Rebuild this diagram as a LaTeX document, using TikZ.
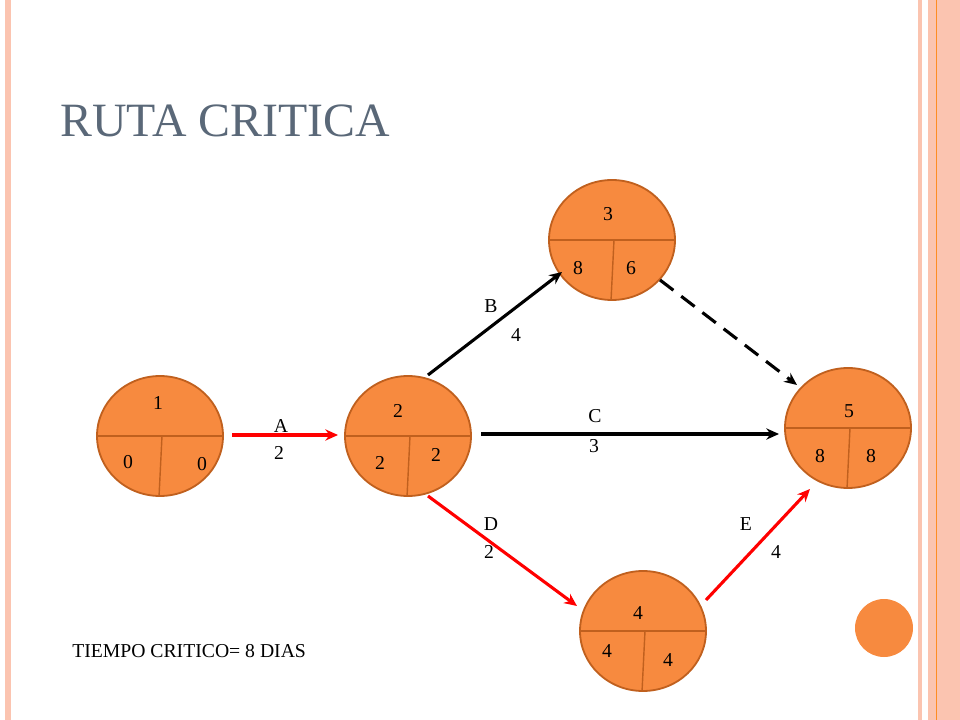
\documentclass[tikz,border=0pt]{standalone}
\usepackage{fontspec}
\setmainfont{Liberation Serif}
\usetikzlibrary{shapes.geometric,arrows.meta}
\definecolor{nodefill}{HTML}{F78A3F}
\definecolor{nodeedge}{HTML}{C0601E}
\definecolor{stripe}{HTML}{FBC4B0}
\definecolor{titlegray}{HTML}{5A6878}
\begin{document}
\begin{tikzpicture}[%
            x=0.025cm,
            y=-0.025cm,
            >={Stealth[length=9pt,width=8pt]},
            ]
    \tikzset{evt/.style = {ellipse, draw=nodeedge, line width=1.3pt, fill=nodefill, inner sep=0pt}}
    \tikzset{lbl/.style = {font=\fontsize{14pt}{16pt}\selectfont, inner sep=0pt}}
    \tikzset{act/.style = {->, line width=2.2pt}}
    \useasboundingbox (0,0) rectangle (960,720);

    % Border stripes
    \fill[stripe] (5,0) rectangle (11,720);
    \fill[stripe] (918,0) rectangle (922,720);
    \fill[stripe] (928,0) rectangle (960,720);
    \draw[orange!80!stripe, line width=0.6pt] (936,0) -- (936,720);

    % Title
    \node[anchor=west, text=titlegray, font=\fontsize{34pt}{38pt}\selectfont, inner sep=0pt] (title) at (60,121) {RUTA CRITICA};

    % Events
    \foreach \n/\x/\y in {1/160/436, 2/408/436, 3/612/240, 5/848/428, 4/643/631} {
        \node[evt, minimum width=126*0.025cm, minimum height=120*0.025cm] (e\n) at (\x,\y) {};
        \draw[nodeedge, line width=1pt] (e\n.west) -- (e\n.east);
        \draw[nodeedge, line width=1pt] ([xshift=2*0.025cm]e\n.center) -- ([xshift=-1*0.025cm]e\n.south);
    }
    \fill[nodefill] (884,628) circle [radius=29*0.025cm];

    % Event numbers
    \foreach \t/\x/\y in {1/158/403, 0/128/462, 0/202/464,
                          2/398/411, 2/380/463, 2/436/455,
                          3/608/214, 8/578/268, 6/631/268,
                          5/849/411, 8/820/456, 8/871/456,
                          4/638/613, 4/607/651, 4/668/660}
        \node[lbl] at (\x,\y) {\t};

    % Activities
    \coordinate (a0) at (232,435); \coordinate (a1) at (338,435);
    \coordinate (b0) at (428,375); \coordinate (b1) at (562,272);
    \coordinate (c0) at (481,434); \coordinate (c1) at (779,434);
    \coordinate (d0) at (428,496); \coordinate (d1) at (577,606);
    \coordinate (f0) at (706,600); \coordinate (f1) at (810,489);
    \coordinate (g0) at (660,280); \coordinate (g1) at (797,385);
    \draw[act, red] (a0) -- (a1);
    \draw[act] (b0) -- (b1);
    \draw[act] (c0) -- (c1);
    \draw[act, red] (d0) -- (d1);
    \draw[act, red] (f0) -- (f1);
    \draw[act, dash pattern=on 12pt off 7pt] (g0) -- (g1);

    % Activity labels
    \foreach \t/\x/\y in {A/281/426, 2/279/453, B/491/306, 4/516/335,
                          C/595/416, 3/594/446, D/491/524, 2/489/552,
                          E/746/524, 4/776/552}
        \node[lbl] at (\x,\y) {\t};

    \node[lbl, anchor=west] (total) at (72,651) {TIEMPO CRITICO= 8 DIAS};
\end{tikzpicture}
\end{document}
